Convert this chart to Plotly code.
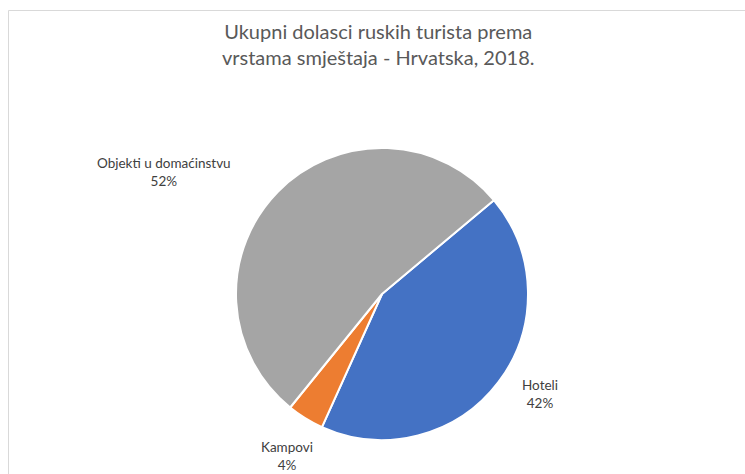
import plotly.graph_objects as go

W, H = 745, 474

title_text = "Ukupni dolasci ruskih turista prema<br>vrstama smještaja - Hrvatska, 2018."
categories = ["Hoteli", "Kampovi", "Objekti u domaćinstvu"]
percent_values = [42, 4, 52]
slice_colors = ["#4472C4", "#ED7D31", "#A5A5A5"]

# label anchor positions in pixels (x, y of label centre)
label_pos = {"Hoteli": (540, 394), "Kampovi": (287, 456), "Objekti u domaćinstvu": (164, 172)}

cx, cy, r = 382, 294, 146

def px(x):
    return x / W

def py(y):
    return 1 - y / H

fig = go.Figure()
fig.add_trace(go.Pie(
    labels=categories,
    values=percent_values,
    marker=dict(colors=slice_colors, line=dict(color="white", width=2)),
    sort=False,
    direction="clockwise",
    rotation=50,
    textinfo="none",
    hoverinfo="label+value",
    showlegend=False,
    domain=dict(x=[px(cx - r), px(cx + r)], y=[py(cy + r), py(cy - r)]),
))

for cat, val in zip(categories, percent_values):
    x, y = label_pos[cat]
    fig.add_annotation(
        x=px(x), y=py(y), xref="paper", yref="paper",
        text=f"{cat}<br>{val}%", showarrow=False,
        font=dict(family="Lato, Open Sans, sans-serif", size=13.5, color="#404040"),
        xanchor="center", yanchor="middle", align="center",
    )

fig.add_annotation(
    x=px(378), y=py(44), xref="paper", yref="paper",
    text=title_text, showarrow=False,
    font=dict(family="Lato, Open Sans, sans-serif", size=20, color="#595959"),
    xanchor="center", yanchor="middle", align="center",
)

fig.add_shape(type="line", xref="paper", yref="paper",
              x0=px(8.5), x1=1, y0=py(10.5), y1=py(10.5),
              line=dict(color="#D9D9D9", width=1))
fig.add_shape(type="line", xref="paper", yref="paper",
              x0=px(8.5), x1=px(8.5), y0=py(10.5), y1=0,
              line=dict(color="#D9D9D9", width=1))

fig.update_layout(
    width=W, height=H,
    margin=dict(l=0, r=0, t=0, b=0),
    paper_bgcolor="white", plot_bgcolor="white",
)

fig.write_html(
    "out.html",
    config={"displayModeBar": False},
    post_script="document.body.style.margin='0';document.body.style.padding='0';",
)
